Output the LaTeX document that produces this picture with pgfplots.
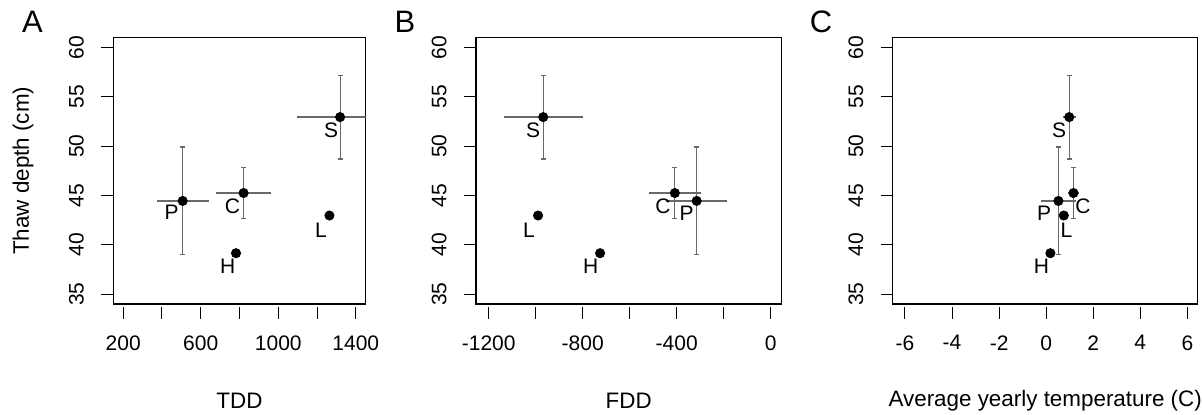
\documentclass[border=0pt]{standalone}
\usepackage{fontspec}
\setmainfont{Liberation Sans}
\usepackage{pgfplots}
\pgfplotsset{compat=1.18}
\definecolor{errgray}{RGB}{105,105,105}
\pgfplotsset{
  rpanel/.style={
    scale only axis, height=133.15pt,
    ymin=34, ymax=61,
    ytick={35,40,...,60}, yticklabels={35,40,45,50,55,60},
    axis line style={line width=0.6pt},
    tick align=outside, major tick length=6pt,
    xtick pos=bottom, ytick pos=left,
    tick style={black, line width=0.5pt},
    x tick style={yshift=-1.5pt},
    xticklabel style={yshift=-6pt},
    yticklabel style={rotate=90, anchor=south, yshift=5pt},
    label style={font=\fontsize{11.2}{13}\selectfont},
    xlabel style={at={(axis description cs:0.5,-0.3643)}, anchor=center},
  },
  xbars/.style={draw=none, forget plot,
    error bars/.cd, x dir=both, x explicit, error mark=none,
    error bar style={draw=errgray, line width=0.6pt}},
  ybars/.style={draw=none, forget plot,
    error bars/.cd, y dir=both, y explicit, error mark=-,
    error mark options={rotate=90, draw=errgray, mark size=1.2pt, line width=0.6pt},
    error bar style={draw=errgray, line width=0.6pt}},
  pts/.style={only marks, mark=*, mark size=2.3pt, black,
    point meta=explicit symbolic, nodes near coords,
    visualization depends on={value \thisrow{dx}\as\dx},
    visualization depends on={value \thisrow{dy}\as\dy},
    every node near coord/.append style={anchor=center, inner sep=0pt,
      xshift=\dx pt, yshift=\dy pt, black}},
}

\begin{document}
\fontsize{10.5}{12.6}\selectfont
\begin{tikzpicture}
\useasboundingbox (0,0) rectangle (601pt,207.5pt);

% A: thaw depth vs TDD
\begin{axis}[rpanel, at={(56.65pt,55.5pt)}, anchor=south west, width=126.2pt,
  xmin=149, xmax=1451,
  xtick={200,400,...,1400}, xticklabels={200,,600,,1000,,1400},
  xlabel={TDD}, ylabel={Thaw depth (cm)},
  ylabel style={at={(axis description cs:-0.357,0.5)}, anchor=center}]
\addplot[xbars] table[x=x, y=y, x error=ex] {
x y ex
507 44.45 135
821 45.25 140
1319 52.95 224
};
\addplot[ybars] table[x=x, y=y, y error=ey] {
x y ey
507 44.45 5.47
821 45.25 2.6
1319 52.95 4.25
};
\addplot[pts] table[x=x, y=y, meta=lab] {
x y lab dx dy
507 44.45 P -5.5 -5.8
821 45.25 C -5.5 -6.7
1319 52.95 S -4.5 -6.7
782 39.15 H -4.2 -6.7
1264 42.97 L -4.2 -7.2
};
\end{axis}

% B: thaw depth vs FDD
\begin{axis}[rpanel, at={(238pt,55.5pt)}, anchor=south west, width=152.65pt,
  xmin=-1254, xmax=45,
  xtick={-1200,-1000,...,0}, xticklabels={-1200,,-800,,-400,,0},
  xlabel={FDD}]
\addplot[xbars] table[x=x, y=y, x error=ex] {
x y ex
-968 52.95 169
-408 45.25 110
-315 44.45 130
};
\addplot[ybars] table[x=x, y=y, y error=ey] {
x y ey
-968 52.95 4.25
-408 45.25 2.6
-315 44.45 5.47
};
\addplot[pts] table[x=x, y=y, meta=lab] {
x y lab dx dy
-968 52.95 S -5 -6.7
-990 42.97 L -4.5 -7.2
-726 39.15 H -4.7 -6.7
-408 45.25 C -6 -6.7
-315 44.45 P -5 -6.3
};
\end{axis}

% C: thaw depth vs average yearly temperature
\begin{axis}[rpanel, at={(446.35pt,55.5pt)}, anchor=south west, width=152.5pt,
  xmin=-6.52, xmax=6.44,
  xtick={-6,-4,...,6}, xticklabels={-6,-4,-2,0,2,4,6},
  xlabel={Average yearly temperature (C)}]
\addplot[xbars] table[x=x, y=y, x error=ex] {
x y ex
0.98 52.95 0.28
1.16 45.25 0.25
0.52 44.45 0.74
};
\addplot[ybars] table[x=x, y=y, y error=ey] {
x y ey
0.98 52.95 4.25
1.16 45.25 2.6
0.52 44.45 5.47
};
\addplot[pts] table[x=x, y=y, meta=lab] {
x y lab dx dy
0.98 52.95 S -5 -6.7
1.16 45.25 C 4.7 -6.7
0.52 44.45 P -7.2 -6.3
0.75 42.97 L 1.3 -7.2
0.18 39.15 H -4.5 -6.7
};
\end{axis}

\node[font=\fontsize{15.5}{18}\selectfont] at (16.25pt,196.5pt) {A};
\node[font=\fontsize{15.5}{18}\selectfont] at (202.5pt,196.5pt) {B};
\node[font=\fontsize{15.5}{18}\selectfont] at (410.5pt,196.5pt) {C};
\end{tikzpicture}
\end{document}
